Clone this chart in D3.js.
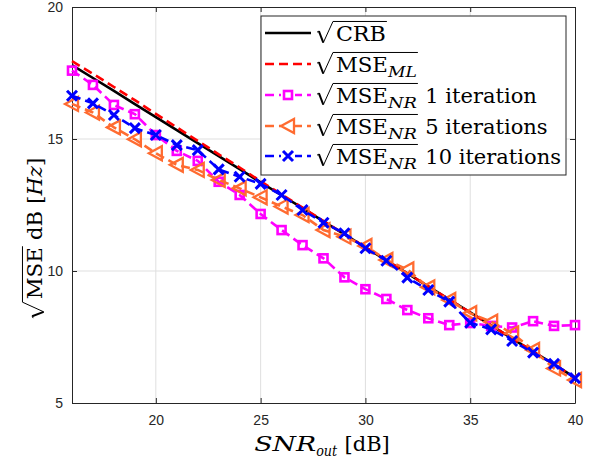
<!DOCTYPE html>
<html>
<head>
<meta charset="utf-8">
<title>RMSE vs SNR</title>
<script src="https://d3js.org/d3.v7.min.js"></script>
<style>
  body { margin: 0; background: #fff; }
  svg { display: block; }
  .serif text { font-family: "DejaVu Serif", "Liberation Serif", serif; fill: #000; }
  .tick text { font-family: "Liberation Sans", Arial, sans-serif; font-size: 14px; fill: #262626; }
</style>
</head>
<body>
<svg id="chart" width="592" height="460"></svg>
<script>
// данные
var snr = [16, 17, 18, 19, 20, 21, 22, 23, 24, 25, 26, 27, 28, 29, 30, 31, 32, 33, 34, 35, 36, 37, 38, 39, 40];
var crb = [17.80, 17.31, 16.82, 16.32, 15.83, 15.34, 14.84, 14.35, 13.86, 13.36, 12.87, 12.38, 11.88, 11.39, 10.90, 10.40, 9.91, 9.42, 8.92, 8.43, 7.94, 7.44, 6.95, 6.46, 5.96];
var mseML = [17.95, 17.47, 16.97, 16.47, 15.95, 15.44, 14.93, 14.42, 13.92, 13.40, 12.90, 12.40, 11.89, 11.40, 10.90, 10.41, 9.91, 9.42, 8.92, 8.43, 7.94, 7.44, 6.95, 6.46, 5.96];
var nr1 = [17.59, 17.05, 16.29, 15.94, 15.15, 14.55, 14.17, 13.38, 12.88, 12.16, 11.55, 10.98, 10.48, 9.76, 9.31, 8.94, 8.52, 8.21, 7.95, 8.03, 7.92, 7.86, 8.10, 7.92, 7.95];
var nr5 = [16.33, 16.00, 15.44, 14.99, 14.46, 14.02, 13.83, 13.45, 13.13, 12.79, 12.44, 12.12, 11.55, 11.30, 10.95, 10.42, 10.06, 9.38, 8.90, 8.40, 8.08, 7.64, 7.01, 6.31, 5.87];
var nr10 = [16.64, 16.35, 15.91, 15.41, 15.15, 14.77, 14.58, 13.85, 13.57, 13.30, 12.88, 12.31, 11.83, 11.43, 10.86, 10.39, 9.75, 9.28, 8.84, 8.04, 7.79, 7.35, 6.91, 6.48, 5.94];

var xTicks = [20, 25, 30, 35, 40];
var yTicks = [5, 10, 15, 20];

var svg = d3.select("#chart");
var x = d3.scaleLinear().domain([16, 40]).range([72, 575]);
var y = d3.scaleLinear().domain([5, 20]).range([403, 7]);

// сетка
var grid = svg.append("g").attr("stroke", "#dfdfdf").attr("stroke-width", 1);
xTicks.slice(0, -1).forEach(function(t) {
    grid.append("line").attr("x1", x(t)).attr("x2", x(t)).attr("y1", y(5)).attr("y2", y(20));
});
yTicks.slice(1, -1).forEach(function(t) {
    grid.append("line").attr("x1", x(16)).attr("x2", x(40)).attr("y1", y(t)).attr("y2", y(t));
});

// оси
function styleAxis(g) {
    g.selectAll("path, line").attr("stroke", "#262626");
}
svg.append("g").attr("transform", "translate(0,403)")
    .call(d3.axisBottom(x).tickValues(xTicks).tickSize(-5).tickSizeOuter(0).tickPadding(12)).call(styleAxis);
svg.append("g").attr("transform", "translate(72,0)")
    .call(d3.axisLeft(y).tickValues(yTicks).tickSize(-5).tickSizeOuter(0).tickPadding(9)).call(styleAxis);
svg.append("g").attr("transform", "translate(0,7)")
    .call(d3.axisTop(x).tickValues(xTicks).tickSize(-5).tickSizeOuter(0).tickFormat("")).call(styleAxis);
svg.append("g").attr("transform", "translate(575,0)")
    .call(d3.axisRight(y).tickValues(yTicks).tickSize(-5).tickSizeOuter(0).tickFormat("")).call(styleAxis);
svg.selectAll(".domain").attr("stroke-width", 1);

// маркеры
function marker(g, type, color) {
    if (type == "square") {
        g.append("rect").attr("x", -4).attr("y", -4).attr("width", 8).attr("height", 8)
            .attr("fill", "none").attr("stroke", color).attr("stroke-width", 2.6);
    } else if (type == "tri") {
        g.append("path").attr("d", "M-7,0L6,-7L6,7Z")
            .attr("fill", "none").attr("stroke", color).attr("stroke-width", 2.3);
    } else if (type == "x") {
        g.append("path").attr("d", "M-5,-5L5,5M-5,5L5,-5")
            .attr("stroke", color).attr("stroke-width", 3);
    }
}

var series = [
    { vals: crb, color: "#000000", dash: null, mark: null },
    { vals: mseML, color: "#ff0000", dash: "9,5", mark: null },
    { vals: nr1, color: "#ff00ff", dash: "9,5", mark: "square" },
    { vals: nr5, color: "#ff6b30", dash: "9,5", mark: "tri" },
    { vals: nr10, color: "#0000ff", dash: "9,5", mark: "x" }
];

var line = d3.line().x(function(d) { return x(d[0]); }).y(function(d) { return y(d[1]); });
var plot = svg.append("g");
series.forEach(function(s) {
    var pts = snr.map(function(v, i) { return [v, s.vals[i]]; });
    plot.append("path").attr("d", line(pts)).attr("fill", "none")
        .attr("stroke", s.color).attr("stroke-width", 2.6)
        .attr("stroke-dasharray", s.dash);
    if (s.mark) {
        pts.forEach(function(p) {
            marker(plot.append("g").attr("transform", "translate(" + x(p[0]) + "," + y(p[1]) + ")"), s.mark, s.color);
        });
    }
});

// текст с корнем и индексами
function rich(g, parts, s) {
    var cx = 0, r0 = null, r1 = null;
    parts.forEach(function(p) {
        if (p.rad) {
            g.append("path").attr("d", "M0," + (-0.42 * s) + "L" + (0.09 * s) + "," + (-0.47 * s))
                .attr("stroke", "#000").attr("stroke-width", 1).attr("fill", "none");
            g.append("path").attr("d", "M" + (0.09 * s) + "," + (-0.47 * s) + "L" + (0.3 * s) + "," + (0.08 * s))
                .attr("stroke", "#000").attr("stroke-width", 2).attr("fill", "none");
            r0 = [0.3 * s, 0.08 * s];
            cx = 0.9 * s;
            return;
        }
        if (p.gap) cx += p.gap * s;
        var fs = p.sub ? s * 0.72 : s;
        var t = g.append("text").attr("x", cx).attr("y", p.sub ? s * 0.24 : 0)
            .attr("font-size", fs).attr("font-style", p.it ? "italic" : "normal").text(p.t);
        if (p.w) t.attr("textLength", p.w).attr("lengthAdjust", "spacingAndGlyphs");
        cx += p.w || t.node().getComputedTextLength();
        if (p.end) r1 = cx + 1;
    });
    if (r0 && r1) {
        g.append("path").attr("d", "M" + r0[0] + "," + r0[1] + "L" + (0.76 * s) + "," + (-0.93 * s) + "L" + r1 + "," + (-0.93 * s))
            .attr("stroke", "#000").attr("stroke-width", 1).attr("fill", "none");
    }
    return cx;
}

// легенда
var leg = svg.append("g").attr("class", "serif");
leg.append("rect").attr("x", 261).attr("y", 16).attr("width", 305).attr("height", 159)
    .attr("fill", "#fff").attr("stroke", "#262626").attr("stroke-width", 1);
var labels = [
    [{ rad: 1 }, { t: "CRB", w: 50, end: 1 }],
    [{ rad: 1 }, { t: "MSE", w: 52 }, { t: "ML", sub: 1, it: 1, w: 29, end: 1 }],
    [{ rad: 1 }, { t: "MSE", w: 52 }, { t: "NR", sub: 1, it: 1, w: 29, end: 1 }, { t: "1 iteration", gap: 0.4 }],
    [{ rad: 1 }, { t: "MSE", w: 52 }, { t: "NR", sub: 1, it: 1, w: 29, end: 1 }, { t: "5 iterations", gap: 0.4 }],
    [{ rad: 1 }, { t: "MSE", w: 52 }, { t: "NR", sub: 1, it: 1, w: 29, end: 1 }, { t: "10 iterations", gap: 0.4 }]
];
var rowY = [33, 64, 95, 126, 156];
series.forEach(function(s, i) {
    leg.append("line").attr("x1", 265).attr("x2", 311).attr("y1", rowY[i]).attr("y2", rowY[i])
        .attr("stroke", s.color).attr("stroke-width", 2.6).attr("stroke-dasharray", s.dash);
    if (s.mark) {
        var m = leg.append("g").attr("transform", "translate(288," + rowY[i] + ")");
        m.append("rect").attr("x", -7).attr("y", -7).attr("width", 14).attr("height", 14).attr("fill", "#fff");
        marker(m, s.mark, s.color);
    }
    rich(leg.append("g").attr("transform", "translate(317," + (rowY[i] + 8) + ")"), labels[i], 21);
});

// подписи осей
var xl = svg.append("g").attr("class", "serif");
var xw = rich(xl, [{ t: "SNR", it: 1, w: 62 }, { t: "out", sub: 1, it: 1, w: 21 }, { t: "[dB]", gap: 0.35 }], 21);
xl.attr("transform", "translate(" + (322 - xw / 2) + ",451)");

var yl = svg.append("g").attr("class", "serif");
var yw = rich(yl, [{ rad: 1 }, { t: "MSE", w: 52, end: 1 }, { t: "dB", gap: 0.35 }, { t: "[", gap: 0.35 }, { t: "Hz", it: 1 }, { t: "]" }], 21);
yl.attr("transform", "translate(42," + (238 + yw / 2) + ") rotate(-90)");
</script>
</body>
</html>
